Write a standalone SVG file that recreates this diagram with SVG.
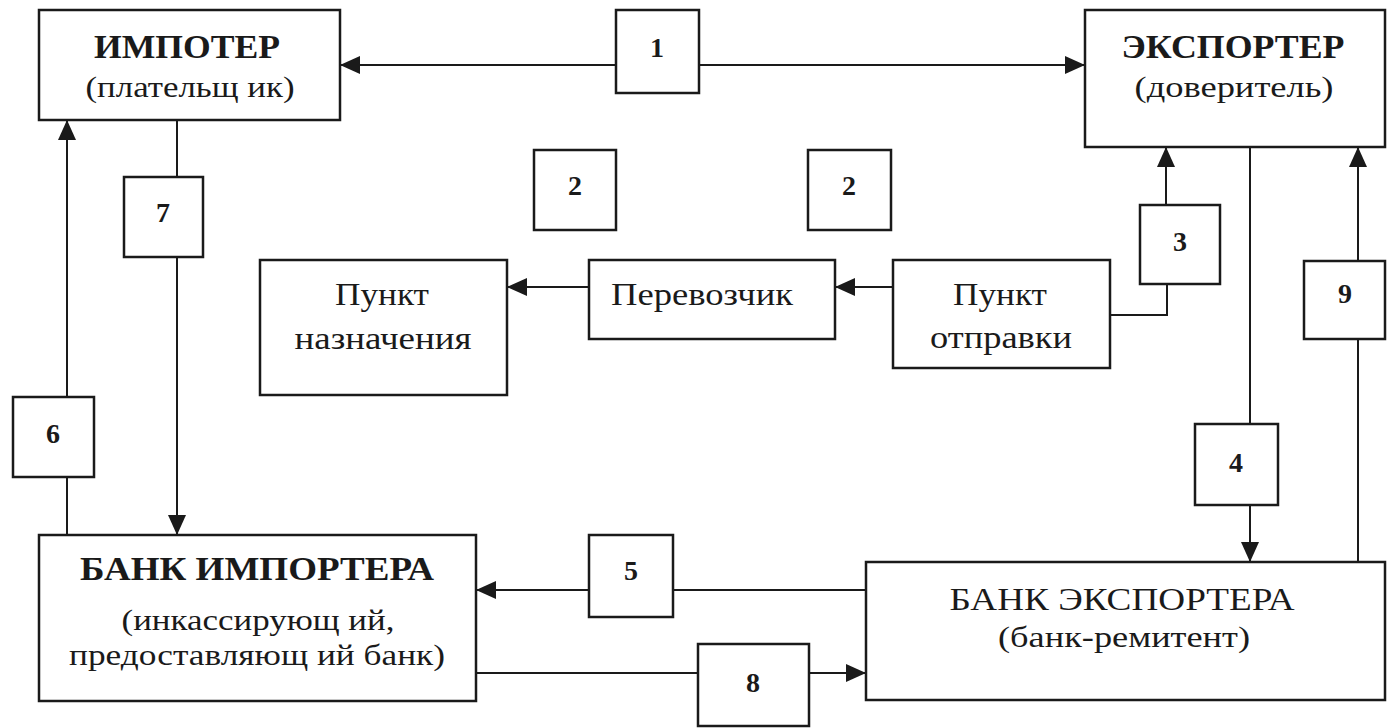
<svg xmlns="http://www.w3.org/2000/svg" width="1387" height="728" viewBox="0 0 1387 728" font-family="'Liberation Serif', 'Times New Roman', 'DejaVu Serif', serif">
<style>
.box{fill:#fff;stroke:#1a1a1a;stroke-width:2.5}
.ln{fill:none;stroke:#1a1a1a;stroke-width:2}
.arr{marker-end:url(#ah)}
text{font-family:'Liberation Serif','Times New Roman','DejaVu Serif',serif;fill:#1a1a1a;text-anchor:middle}
.t{font-size:34px;font-weight:bold}
.r{font-size:31px}
.p{font-size:30px}
.n{font-size:28px;font-weight:bold}
</style>
<defs>
<marker id="ah" markerUnits="userSpaceOnUse" markerWidth="20" markerHeight="18" refX="20" refY="9" orient="auto">
<path d="M0,0 L20,9 L0,18 z" fill="#1a1a1a"/>
</marker>
</defs>
<rect width="1387" height="728" fill="#fff"/>
<g id="connectors">
<line class="ln arr" x1="616" y1="65" x2="340" y2="65"/>
<line class="ln arr" x1="699" y1="65" x2="1085" y2="65"/>
<line class="ln" x1="177" y1="120" x2="177" y2="177"/>
<line class="ln arr" x1="177" y1="257" x2="177" y2="535"/>
<line class="ln" x1="67" y1="535" x2="67" y2="477"/>
<line class="ln arr" x1="67" y1="397" x2="67" y2="120"/>
<line class="ln arr" x1="893" y1="287" x2="835" y2="287"/>
<line class="ln arr" x1="589" y1="287" x2="507" y2="287"/>
<polyline class="ln" points="1110,315 1167,315 1167,284"/>
<line class="ln arr" x1="1166" y1="205" x2="1166" y2="147"/>
<line class="ln" x1="1250" y1="147" x2="1250" y2="424"/>
<line class="ln arr" x1="1250" y1="505" x2="1250" y2="562"/>
<line class="ln" x1="1358" y1="562" x2="1358" y2="339"/>
<line class="ln arr" x1="1358" y1="261" x2="1358" y2="147"/>
<line class="ln" x1="866" y1="590" x2="673" y2="590"/>
<line class="ln arr" x1="589" y1="590" x2="476" y2="590"/>
<line class="ln" x1="476" y1="673" x2="698" y2="673"/>
<line class="ln arr" x1="809" y1="673" x2="866" y2="673"/>
</g>
<g id="importer">
<rect class="box" x="39" y="10" width="301" height="110"/>
<text class="t" x="187" y="58" textLength="186" lengthAdjust="spacingAndGlyphs">ИМПОТЕР</text>
<text class="p" x="190" y="97" textLength="209" lengthAdjust="spacingAndGlyphs">(плательщ ик)</text>
</g>
<g id="exporter">
<rect class="box" x="1085" y="10" width="300" height="137"/>
<text class="t" x="1233" y="58" textLength="223" lengthAdjust="spacingAndGlyphs">ЭКСПОРТЕР</text>
<text class="p" x="1234" y="97" textLength="199" lengthAdjust="spacingAndGlyphs">(доверитель)</text>
</g>
<g id="destination">
<rect class="box" x="260" y="260" width="247" height="135"/>
<text class="r" x="382" y="305" textLength="94" lengthAdjust="spacingAndGlyphs">Пункт</text>
<text class="r" x="383" y="349" textLength="177" lengthAdjust="spacingAndGlyphs">назначения</text>
</g>
<g id="carrier">
<rect class="box" x="589" y="260" width="246" height="79"/>
<text class="r" x="702" y="305" textLength="182" lengthAdjust="spacingAndGlyphs">Перевозчик</text>
</g>
<g id="departure">
<rect class="box" x="893" y="260" width="217" height="108"/>
<text class="r" x="1000" y="305" textLength="94" lengthAdjust="spacingAndGlyphs">Пункт</text>
<text class="r" x="1001" y="348" textLength="142" lengthAdjust="spacingAndGlyphs">отправки</text>
</g>
<g id="bank-importer">
<rect class="box" x="39" y="535" width="437" height="166"/>
<text class="t" x="257" y="580" textLength="354" lengthAdjust="spacingAndGlyphs">БАНК ИМПОРТЕРА</text>
<text class="p" x="258" y="630" textLength="273" lengthAdjust="spacingAndGlyphs">(инкассирующ ий,</text>
<text class="p" x="257" y="665" textLength="376" lengthAdjust="spacingAndGlyphs">предоставляющ ий банк)</text>
</g>
<g id="bank-exporter">
<rect class="box" x="866" y="562" width="519" height="138"/>
<text class="r" x="1122" y="610" textLength="345" lengthAdjust="spacingAndGlyphs">БАНК ЭКСПОРТЕРА</text>
<text class="p" x="1124" y="647" textLength="252" lengthAdjust="spacingAndGlyphs">(банк-ремитент)</text>
</g>
<g id="step1"><rect class="box" x="616" y="10" width="83" height="83"/><text class="n" x="657" y="57">1</text></g>
<g id="step2a"><rect class="box" x="534" y="150" width="82" height="80"/><text class="n" x="575" y="195">2</text></g>
<g id="step2b"><rect class="box" x="808" y="150" width="83" height="80"/><text class="n" x="849" y="195">2</text></g>
<g id="step3"><rect class="box" x="1140" y="205" width="80" height="79"/><text class="n" x="1180" y="251">3</text></g>
<g id="step4"><rect class="box" x="1195" y="424" width="83" height="81"/><text class="n" x="1236" y="472">4</text></g>
<g id="step5"><rect class="box" x="589" y="535" width="84" height="82"/><text class="n" x="631" y="580">5</text></g>
<g id="step6"><rect class="box" x="13" y="397" width="81" height="80"/><text class="n" x="53" y="443">6</text></g>
<g id="step7"><rect class="box" x="124" y="177" width="79" height="80"/><text class="n" x="163" y="222">7</text></g>
<g id="step8"><rect class="box" x="698" y="644" width="111" height="82"/><text class="n" x="753" y="692">8</text></g>
<g id="step9"><rect class="box" x="1304" y="261" width="81" height="78"/><text class="n" x="1345" y="303">9</text></g>
</svg>
